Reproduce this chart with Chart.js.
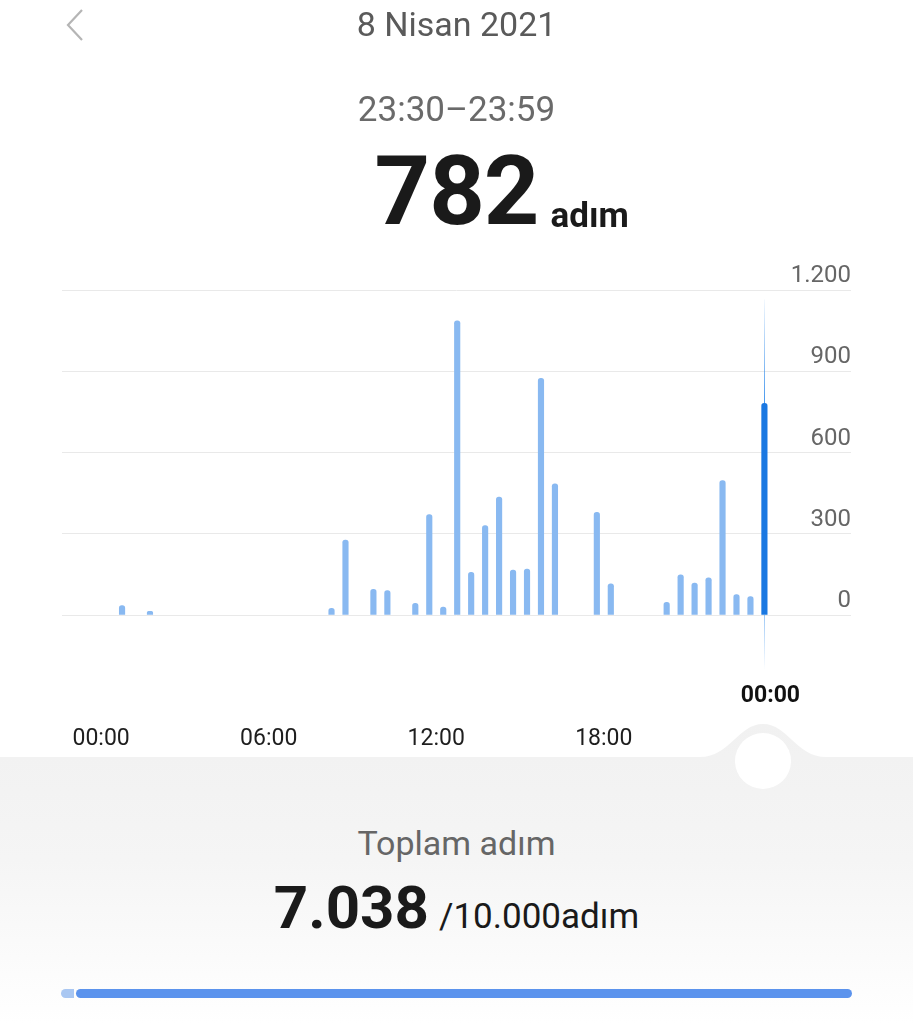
<!DOCTYPE html>
<html>
<head>
<meta charset="utf-8">
<script src="https://cdn.jsdelivr.net/npm/chart.js@4.4.1/dist/chart.umd.min.js"></script>
<style>
  html, body { margin: 0; padding: 0; background: #fff; }
  body { width: 913px; height: 1024px; position: relative; overflow: hidden; font-family: Roboto, "Noto Sans", sans-serif; }
  .abs { position: absolute; z-index: 3; }
  #chartWrap { position: absolute; left: 0; top: 0; width: 913px; height: 780px; z-index: 2; }
  .center { left: 0; width: 913px; text-align: center; }
</style>
</head>
<body>
<svg style="position:absolute;left:0;top:0;z-index:1" width="913" height="1024" viewBox="0 0 913 1024">
  <defs>
    <linearGradient id="bg" x1="0" y1="0" x2="0" y2="1">
      <stop offset="0" stop-color="#f1f1f1"/>
      <stop offset="0.45" stop-color="#f5f5f5"/>
      <stop offset="1" stop-color="#ffffff"/>
    </linearGradient>
  </defs>
  <path d="M0,757 L700,757 C730,757 738,724 763,724 C788,724 796,757 826,757 L913,757 L913,1024 L0,1024 Z" fill="url(#bg)"/>
  <circle cx="763" cy="761" r="28" fill="#ffffff"/>
  <polyline points="82,10 68,25 82,40" fill="none" stroke="#b5b5b5" stroke-width="2.2"/>
  <rect x="61" y="989" width="13" height="9" rx="4.5" fill="#a9c7f2"/>
  <rect x="70" y="989" width="4" height="9" fill="#a9c7f2"/>
  <rect x="76" y="989" width="776" height="9" rx="4.5" fill="#5b93ed"/>
</svg>

<div class="abs center" style="top:4px;font-size:34px;color:#5a5a5a;">8 Nisan 2021</div>
<div class="abs center" style="top:89px;font-size:35px;color:#6a6a6a;">23:30–23:59</div>
<div class="abs center" style="top:134px;color:#1a1a1a;">
  <span style="font-size:97px;font-weight:700;letter-spacing:-1px;position:relative;">782<span style="position:absolute;left:100%;bottom:0;font-size:35px;font-weight:700;margin-left:12px;line-height:1;padding-bottom:15px;letter-spacing:0;">adım</span></span>
</div>
<div class="abs center" style="top:823px;font-size:34px;color:#666;">Toplam adım</div>
<div class="abs center" style="top:872px;color:#1a1a1a;">
  <span style="font-size:60px;font-weight:700;">7.038</span><span style="font-size:35px;margin-left:10px;">/10.000adım</span>
</div>

<div id="chartWrap"><canvas id="c" width="913" height="780"></canvas></div>

<script>
// Half-hour slots 00:00 ... 23:30 (48 slots)
const slotLabels = ["00:00","00:30","01:00","01:30","02:00","02:30","03:00","03:30","04:00","04:30","05:00","05:30",
  "06:00","06:30","07:00","07:30","08:00","08:30","09:00","09:30","10:00","10:30","11:00","11:30",
  "12:00","12:30","13:00","13:30","14:00","14:30","15:00","15:30","16:00","16:30","17:00","17:30",
  "18:00","18:30","19:00","19:30","20:00","20:30","21:00","21:30","22:00","22:30","23:00","23:30"];
// Steps per half-hour slot
const steps = [0,35,0,14,0,0,0,0,0,0,0,0,
  0,0,0,0,25,277,0,95,90,0,43,371,
  29,1086,158,330,435,166,170,874,484,0,0,379,
  115,0,0,0,47,148,118,137,496,75,68,782];
const xTickSlots = [0, 12, 24, 36];
const xTickLabels = ["00:00", "06:00", "12:00", "18:00"];
const selectedSlot = 47;
const selectedEndLabel = "00:00";
const yTickValues = [0, 300, 600, 900, 1200];
const yTickLabels = ["0", "300", "600", "900", "1.200"];

const points = [];
steps.forEach((v, i) => { if (v > 0) points.push({ x: i + 0.5, y: v, slot: slotLabels[i] }); });

const selectionPlugin = {
  id: 'selection',
  beforeDatasetsDraw(chart) {
    const { ctx, scales: { x, y } } = chart;
    const px = Math.round(x.getPixelForValue(selectedSlot + 0.5)) + 0.5;
    const top = y.getPixelForValue(1165);
    const base = y.getPixelForValue(0);
    const barTop = y.getPixelForValue(steps[selectedSlot]);
    ctx.save();
    ctx.lineWidth = 1;
    let g = ctx.createLinearGradient(0, top, 0, barTop);
    g.addColorStop(0, 'rgba(40,135,235,0.05)');
    g.addColorStop(1, 'rgba(40,135,235,0.85)');
    ctx.strokeStyle = g;
    ctx.beginPath(); ctx.moveTo(px, top); ctx.lineTo(px, barTop); ctx.stroke();
    g = ctx.createLinearGradient(0, base, 0, base + 55);
    g.addColorStop(0, 'rgba(40,135,235,0.45)');
    g.addColorStop(1, 'rgba(40,135,235,0)');
    ctx.strokeStyle = g;
    ctx.beginPath(); ctx.moveTo(px, base); ctx.lineTo(px, base + 55); ctx.stroke();
    ctx.restore();
  },
  afterDraw(chart) {
    const { ctx, scales: { x } } = chart;
    const px = x.getPixelForValue(selectedSlot + 1);
    ctx.save();
    ctx.font = 'bold 23px Roboto';
    ctx.fillStyle = '#111';
    ctx.textAlign = 'center';
    ctx.textBaseline = 'middle';
    ctx.fillText(selectedEndLabel, px - 1, 696);
    ctx.restore();
  }
};

new Chart(document.getElementById('c'), {
  type: 'bar',
  data: {
    datasets: [{
      data: points,
      backgroundColor: (c) => (c.raw && c.raw.x === selectedSlot + 0.5) ? '#1a78e2' : '#89b9f1',
      barThickness: 5.5,
      borderRadius: { topLeft: 2.75, topRight: 2.75 },
      borderSkipped: 'bottom'
    }]
  },
  options: {
    responsive: false,
    animation: false,
    events: [],
    layout: { padding: { left: 62, right: 62, top: 290, bottom: 25 } },
    plugins: { legend: { display: false }, tooltip: { enabled: false } },
    scales: {
      x: {
        type: 'linear',
        offset: false,
        min: -2.8,
        max: 53.7,
        grid: { display: false, drawTicks: true, tickLength: 110, offset: false },
        border: { display: false },
        afterBuildTicks: (s) => { s.ticks = xTickSlots.map(v => ({ value: v })); },
        afterFit: (s) => { s.height = 140; },
        ticks: {
          autoSkip: false, maxRotation: 0, padding: 0,
          color: '#1e1e1e', font: { family: 'Roboto', size: 23 },
          callback: (v) => xTickLabels[xTickSlots.indexOf(v)]
        }
      },
      y: {
        position: 'right',
        min: 0, max: 1200,
        grid: { color: '#e9e9e9', lineWidth: 1, drawTicks: false },
        border: { display: false },
        afterBuildTicks: (s) => { s.ticks = yTickValues.map(v => ({ value: v })); },
        ticks: {
          mirror: true, padding: 0, labelOffset: -14,
          color: '#666', font: { family: 'Roboto', size: 24 },
          callback: (v) => yTickLabels[yTickValues.indexOf(v)]
        }
      }
    }
  },
  plugins: [selectionPlugin]
});
</script>
</body>
</html>
